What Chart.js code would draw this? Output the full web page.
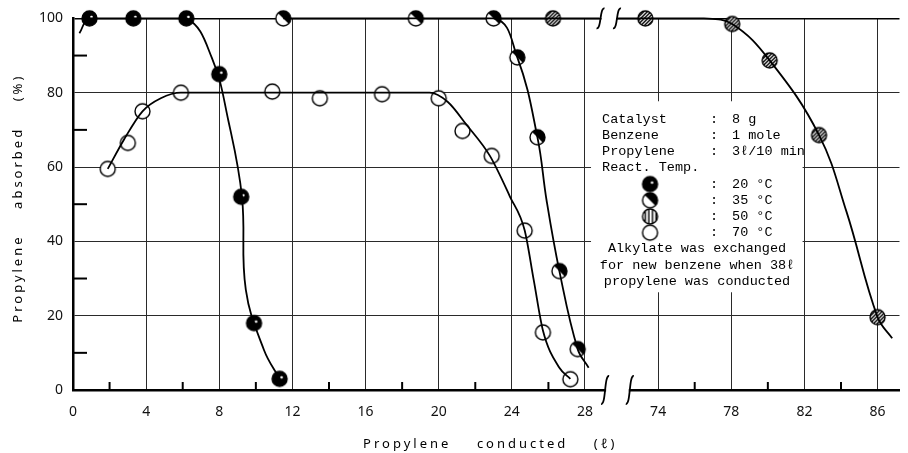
<!DOCTYPE html>
<html>
<head>
<meta charset="utf-8">
<script src="https://cdn.jsdelivr.net/npm/chart.js@4.4.1/dist/chart.umd.min.js"></script>
<style>
  html, body { margin: 0; padding: 0; background: #fff; }
  #wrap { width: 908px; height: 453px; position: relative; }
</style>
</head>
<body>
<div id="wrap"><canvas id="chart"></canvas></div>
<script>
// readings from the figure: x = propylene conducted (l), y = propylene absorbed (%)
const temps = ['20 °C', '35 °C', '50 °C', '70 °C'];

const x20 = [0.9, 3.3, 6.2, 8.0, 9.2, 9.9, 11.3];
const y20 = [100, 100, 100, 85, 52, 18, 3];
const x35 = [11.5, 18.75, 23.0, 24.3, 25.4, 26.6, 27.6];
const y35 = [100, 100, 100, 89.5, 68, 32, 11];
const x50 = [26.25, 73.3, 78.05, 80.1, 82.8, 86.0];
const y50 = [100, 100, 98.5, 88.7, 68.6, 19.6];
const x70 = [1.9, 3.0, 3.8, 5.9, 10.9, 13.5, 16.9, 20.0, 21.3, 22.9, 24.7, 25.7, 27.2];
const y70 = [59.5, 66.5, 75, 80, 80.3, 78.5, 79.6, 78.5, 69.7, 63, 42.9, 15.5, 2.9];

// the hand drawn curves
const c20x = [0.35, 0.9, 3.3, 6.2, 7.6, 8.5, 9.24, 9.45, 10.45, 11.3];
const c20y = [96, 100, 100, 100, 89.3, 72.4, 52, 27, 10.7, 3];
const c35x = [11.5, 23.0, 24.3, 25.4, 25.9, 26.6, 27.6, 28.2];
const c35y = [100, 100, 89.5, 68, 51, 32, 11, 6];
const c50ax = [23.0, 26.25, 28.8];
const c50ay = [100, 100, 100];
const c50bx = [71.75, 76.5, 78.05, 80.1, 82.8, 84.3, 86.0, 86.8];
const c50by = [100, 100, 98.5, 88.7, 68.6, 48, 19.6, 13.9];
const c70x = [1.9, 2.8, 3.8, 4.8, 5.9, 19.5, 20.5, 21.5, 22.8, 23.9, 24.7, 25.2, 25.7, 26.6, 27.2];
const c70y = [59.5, 67.5, 75, 78.5, 80, 80, 77.5, 71.5, 63, 52, 43, 29.5, 16, 6, 3];

const xTickLabels = [0, 4, 8, 12, 16, 20, 24, 28, 74, 78, 82, 86];
const yTickLabels = [0, 20, 40, 60, 80, 100];

const boxLines = [
  ['Catalyst', ':', '8 g'],
  ['Benzene', ':', '1 mole'],
  ['Propylene', ':', '3ℓ/10 min'],
  ['React. Temp.', '', '']
];
const noteLines = [
  'Alkylate was exchanged',
  'for new benzene when 38ℓ',
  'propylene was conducted'
];

// x axis is broken between 28 and 74 l, right part shifted left by 42
const SHIFT = 42;
const toAxis = v => (v > 50 ? v - SHIFT : v);
const fromAxis = v => (v > 28.9 ? v + SHIFT : v);
const pts = (xs, ys) => xs.map((x, i) => ({ x: toAxis(x), y: ys[i] }));

function makeMarker(kind, r = 7.5) {
  const s = Math.ceil(2 * r + 4);
  const c = document.createElement('canvas');
  c.width = c.height = s;
  const g = c.getContext('2d');
  const m = s / 2;
  const circle = () => { g.beginPath(); g.arc(m, m, r, 0, Math.PI * 2); };
  circle();
  g.fillStyle = kind === 'filled' ? '#000' : '#fff';
  g.fill();
  if (kind === 'filled') {
    g.beginPath(); g.arc(m + 2, m - 1.5, 1.3, 0, Math.PI * 2);
    g.fillStyle = '#fff'; g.fill();
  }
  if (kind === 'half') {
    g.beginPath(); g.arc(m, m, r, -Math.PI * 0.75, Math.PI * 0.25); g.closePath();
    g.fillStyle = '#000'; g.fill();
  }
  if (kind === 'hatch' || kind === 'vhatch') {
    g.save(); circle(); g.clip();
    g.lineWidth = 1.4; g.strokeStyle = '#000';
    for (let d = -12; d <= 12; d += 3.6) {
      g.beginPath();
      if (kind === 'hatch') { g.moveTo(m + d - 12, m + 12); g.lineTo(m + d + 12, m - 12); }
      else { g.moveTo(m + d, 0); g.lineTo(m + d, s); }
      g.stroke();
    }
    g.restore();
  }
  circle();
  g.lineWidth = 1.4; g.strokeStyle = '#000'; g.stroke();
  return c;
}

const markers = [makeMarker('filled'), makeMarker('half'), makeMarker('hatch'), makeMarker('open')];
const legendMarkers = [makeMarker('filled'), makeMarker('half'), makeMarker('vhatch'), makeMarker('open')];

const curve = (data, smooth) => ({
  data, showLine: true, borderColor: '#000', borderWidth: 1.8, pointRadius: 0,
  cubicInterpolationMode: smooth === 'monotone' ? 'monotone' : 'default',
  tension: 0.4, clip: false
});
const dots = (data, i) => ({
  label: temps[i], data, showLine: false, pointStyle: markers[i], pointRadius: 7.5, clip: false
});

const annotBox = {
  id: 'annotBox',
  beforeDatasetsDraw(chart) {
    const { ctx, scales: { x, y } } = chart;
    const left = x.getPixelForValue(28.33), right = x.getPixelForValue(39.9);
    const top = y.getPixelForValue(77.7), bottom = y.getPixelForValue(26.3);
    ctx.save();
    ctx.fillStyle = '#fff';
    ctx.fillRect(left, top, right - left, bottom - top);
    ctx.fillStyle = '#000';
    ctx.font = "13.5px 'Liberation Mono'";
    ctx.textBaseline = 'middle';
    const lh = 16.2;
    let ty = top + 18;
    boxLines.forEach(([a, b, c]) => {
      ctx.fillText(a, left + 11, ty);
      ctx.fillText(b, left + 119, ty);
      ctx.fillText(c, left + 141, ty);
      ty += lh;
    });
    temps.forEach((t, i) => {
      const mk = legendMarkers[i];
      ctx.drawImage(mk, left + 59 - mk.width / 2, ty - mk.height / 2);
      ctx.fillText(':', left + 119, ty);
      ctx.fillText(t, left + 141, ty);
      ty += lh;
    });
    ctx.textAlign = 'center';
    noteLines.forEach(t => {
      ctx.fillText(t, left + 106, ty);
      ty += lh;
    });
    ctx.restore();
  }
};

const extras = {
  id: 'extras',
  afterDraw(chart) {
    const { ctx, chartArea: ca, scales: { x, y } } = chart;
    ctx.save();
    ctx.strokeStyle = '#000';
    ctx.lineWidth = 2;
    // minor ticks
    for (let i = 0; i < xTickLabels.length - 1; i++) {
      if (xTickLabels[i + 1] - xTickLabels[i] !== 4) continue;
      const px = x.getPixelForValue(toAxis(xTickLabels[i] + 2));
      ctx.beginPath(); ctx.moveTo(px, ca.bottom); ctx.lineTo(px, ca.bottom - 8); ctx.stroke();
    }
    for (let i = 0; i < yTickLabels.length - 1; i++) {
      const py = y.getPixelForValue(yTickLabels[i] + 10);
      ctx.beginPath(); ctx.moveTo(ca.left, py); ctx.lineTo(ca.left + 14, py); ctx.stroke();
    }
    // axis break marks
    const brk = (x1, x2, yy, h) => {
      ctx.fillStyle = '#fff';
      ctx.fillRect(x1 + 1, yy - 3, x2 - x1 - 2, 6);
      ctx.lineWidth = 1.8;
      [x1, x2].forEach(bx => {
        ctx.beginPath();
        ctx.moveTo(bx - 4, yy + h / 2);
        ctx.bezierCurveTo(bx + 1, yy + h / 2 + 1, bx - 1, yy - h / 2 - 1, bx + 4, yy - h / 2);
        ctx.stroke();
      });
    };
    brk(x.getPixelForValue(28.85), x.getPixelForValue(29.75), ca.top, 20);
    brk(x.getPixelForValue(29.1), x.getPixelForValue(30.45), ca.bottom, 28);
    // axis titles
    ctx.fillStyle = '#000';
    ctx.font = "13px 'Noto Sans'";
    ctx.letterSpacing = '3px';
    ctx.textAlign = 'center';
    ctx.textBaseline = 'middle';
    ctx.fillText('Propylene    conducted    (ℓ)', (ca.left + ca.right) / 2 + 4, 444);
    ctx.translate(18, (ca.top + ca.bottom) / 2 - 6);
    ctx.rotate(-Math.PI / 2);
    ctx.fillText('Propylene    absorbed    (%)', 0, 0);
    ctx.restore();
  }
};

new Chart(document.getElementById('chart'), {
  type: 'line',
  data: {
    datasets: [
      curve(pts(c20x, c20y)),
      curve(pts(c35x, c35y)),
      curve(pts(c50ax, c50ay)),
      curve(pts(c50bx, c50by)),
      curve(pts(c70x, c70y), 'monotone'),
      dots(pts(x20, y20), 0),
      dots(pts(x35, y35), 1),
      dots(pts(x50, y50), 2),
      dots(pts(x70, y70), 3)
    ]
  },
  options: {
    responsive: true,
    maintainAspectRatio: false,
    animation: false,
    layout: { padding: { top: 17, right: 3, left: 0, bottom: 0 } },
    plugins: { legend: { display: false }, tooltip: { enabled: false } },
    scales: {
      x: {
        type: 'linear',
        min: 0,
        max: 45.2,
        afterFit: s => { s.height = 63; },
        afterBuildTicks: s => { s.ticks = xTickLabels.map(v => ({ value: toAxis(v) })); },
        ticks: {
          callback: v => String(fromAxis(v)),
          padding: 14,
          color: '#111',
          font: { family: "'Noto Sans'", size: 14 },
          autoSkip: false,
          maxRotation: 0
        },
        grid: { color: '#2a2a2a', lineWidth: 1, drawTicks: false },
        border: { color: '#000', width: 2.5 }
      },
      y: {
        min: 0,
        max: 100,
        afterFit: s => { s.width = 73; },
        afterBuildTicks: s => { s.ticks = yTickLabels.map(v => ({ value: v })); },
        ticks: {
          padding: 10,
          color: '#111',
          font: { family: "'Noto Sans'", size: 14 }
        },
        grid: {
          color: c => (c.tick && c.tick.value === 100 ? '#000' : '#2a2a2a'),
          lineWidth: c => (c.tick && c.tick.value === 100 ? 1.6 : 1),
          drawTicks: false
        },
        border: { color: '#000', width: 2.5 }
      }
    }
  },
  plugins: [annotBox, extras]
});
</script>
</body>
</html>
